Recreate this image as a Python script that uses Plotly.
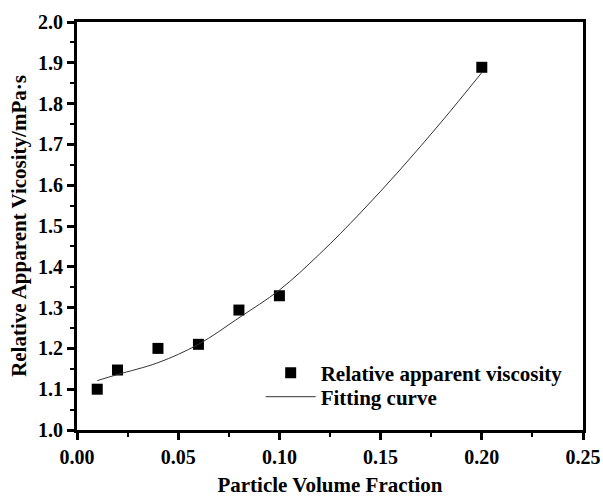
import plotly.graph_objects as go

# ── data ────────────────────────────────────────────────────────────────────
fraction = [0.01, 0.02, 0.04, 0.06, 0.08, 0.10, 0.20]
viscosity = [1.100, 1.147, 1.200, 1.210, 1.294, 1.329, 1.889]

# fitted curve, sampled by eye along the drawn line
fit_fraction = [0.01, 0.02, 0.04, 0.06, 0.08, 0.10, 0.12, 0.14, 0.16, 0.18, 0.20]
fit_viscosity = [1.121, 1.136, 1.165, 1.210, 1.275, 1.343, 1.432, 1.532, 1.640, 1.755, 1.876]

x_ticks = [0.00, 0.05, 0.10, 0.15, 0.20, 0.25]
y_ticks = [1.0, 1.1, 1.2, 1.3, 1.4, 1.5, 1.6, 1.7, 1.8, 1.9, 2.0]

FONT = "Liberation Serif, Times New Roman, serif"

fig = go.Figure()

fig.add_trace(go.Scatter(
    x=fraction,
    y=viscosity,
    mode="markers",
    name="Relative apparent viscosity",
    marker=dict(symbol="square", size=11, color="black"),
    legend="legend",
))

fig.add_trace(go.Scatter(
    x=fit_fraction,
    y=fit_viscosity,
    mode="lines",
    name="Fitting curve",
    line=dict(color="#333333", width=1, shape="spline"),
    legend="legend2",
))

axis_common = dict(
    showgrid=False,
    zeroline=False,
    showline=True,
    linecolor="black",
    linewidth=2.8,
    mirror=True,
    ticks="outside",
    ticklen=7,
    tickwidth=2.5,
    tickcolor="black",
    automargin=False,
    tickfont=dict(family=FONT, size=20, color="black", weight="bold"),
)

fig.update_xaxes(
    range=[0, 0.25],
    tickvals=x_ticks,
    tickformat=".2f",
    minor=dict(ticks="outside", ticklen=4, tickwidth=2, tickcolor="black", dtick=0.025),
    title=dict(text="Particle Volume Fraction", standoff=12,
               font=dict(family=FONT, size=21, color="black", weight="bold")),
    **axis_common,
)

fig.update_yaxes(
    range=[1.0, 2.0],
    tickvals=y_ticks,
    tickformat=".1f",
    minor=dict(ticks="outside", ticklen=4, tickwidth=2, tickcolor="black", dtick=0.05),
    title=dict(text="Relative Apparent Vicosity/mPa·s", standoff=6,
               font=dict(family=FONT, size=21, color="black", weight="bold")),
    **axis_common,
)

legend_style = dict(
    xanchor="left",
    yanchor="top",
    bgcolor="rgba(0,0,0,0)",
    itemwidth=50,
    font=dict(family=FONT, size=21, color="black", weight="bold"),
)

fig.update_layout(
    width=603,
    height=497,
    margin=dict(l=77, r=20, t=22, b=67),
    plot_bgcolor="white",
    paper_bgcolor="white",
    font=dict(family=FONT, color="black"),
    showlegend=True,
    legend=dict(x=0.363, y=0.190, **legend_style),
    legend2=dict(x=0.363, y=0.131, **legend_style),
)

# drop the page's default body margin so the figure sits at the window's corner
fig.write_html(
    "out.html",
    config={"displayModeBar": False},
    post_script="document.body.style.margin='0';",
)
